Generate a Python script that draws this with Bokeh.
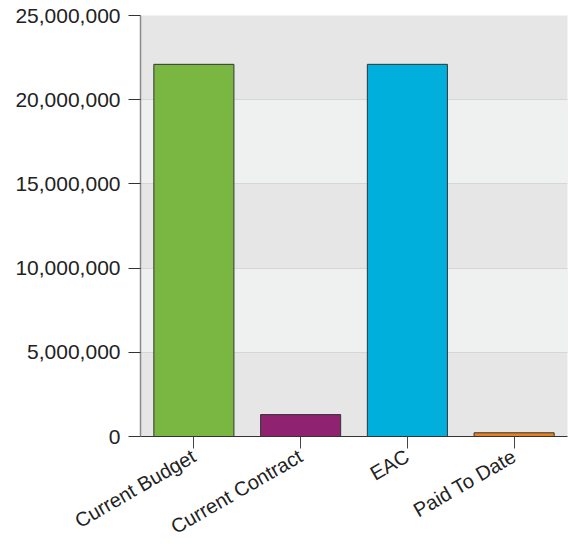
import math
from bokeh.plotting import figure
from bokeh.models import ColumnDataSource, FactorRange, Range1d, NumeralTickFormatter, FixedTicker
from bokeh.embed import file_html
from bokeh.resources import INLINE

categories = ["Current Budget", "Current Contract", "EAC", "Paid To Date"]
values = [22100000, 1300000, 22100000, 220000]
colors = ["#7ab642", "#8f2372", "#00afdb", "#e8821f"]
y_ticks = [0, 5000000, 10000000, 15000000, 20000000, 25000000]

source = ColumnDataSource(dict(cat=categories, val=values, color=colors))

p = figure(
    width=568, height=550,
    x_range=FactorRange(*categories, range_padding=0),
    y_range=Range1d(0, 25000000),
    output_backend="svg", toolbar_location=None,
    min_border_left=140, min_border_right=1, min_border_top=15, min_border_bottom=113,
)
p.outline_line_color = None
p.background_fill_color = "#e6e6e6"
p.border_fill_color = "white"

p.vbar(x="cat", top="val", width=0.75, source=source, fill_color="color",
       line_color="#333333", line_width=1)

p.xgrid.grid_line_color = None
p.ygrid.grid_line_color = "#d6d6d6"
p.ygrid.band_fill_color = "#eff0f0"
p.ygrid.band_fill_alpha = 1.0

p.yaxis.ticker = FixedTicker(ticks=y_ticks)
p.yaxis.formatter = NumeralTickFormatter(format="0,0")
p.yaxis.minor_tick_line_color = None
p.yaxis.major_tick_in = 0
p.yaxis.major_tick_out = 12
p.yaxis.major_tick_line_color = "#333333"
p.yaxis.axis_line_color = "#8a8a8a"
p.yaxis.axis_line_width = 1.5
p.yaxis.major_label_standoff = 8
p.yaxis.major_label_text_font_size = "21px"

p.xaxis.major_tick_in = 0
p.xaxis.major_tick_out = 12
p.xaxis.major_tick_line_color = "#444444"
p.xaxis.axis_line_color = "#333333"
p.xaxis.major_label_orientation = math.pi / 6
p.xaxis.major_label_standoff = 6
p.xaxis.major_label_text_font_size = "20px"

for ax in (p.xaxis, p.yaxis):
    ax.major_label_text_font = "Liberation Sans"
    ax.major_label_text_color = "#222222"

open("out.html", "w").write(file_html(p, INLINE))
